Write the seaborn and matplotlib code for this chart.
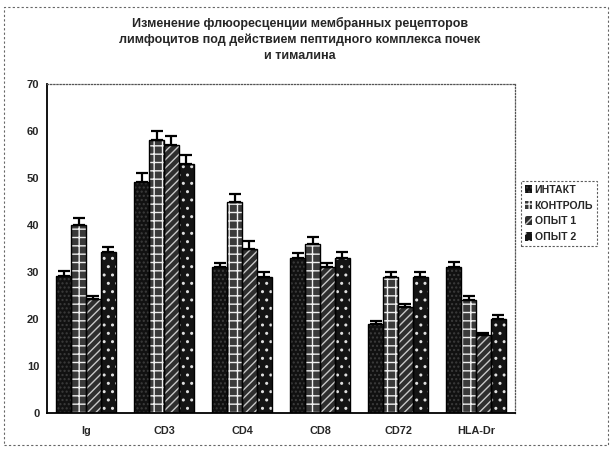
import matplotlib
matplotlib.use("Agg")
import matplotlib.pyplot as plt
from matplotlib.patches import Patch, Rectangle
from matplotlib.ticker import FixedLocator
import seaborn as sns
import pandas as pd
import numpy as np

categories = ["Ig", "CD3", "CD4", "CD8", "CD72", "HLA-Dr"]
groups = ["ИНТАКТ", "КОНТРОЛЬ", "ОПЫТ 1", "ОПЫТ 2"]
intakt = [29.2, 49.2, 31.0, 33.0, 19.0, 31.0]
kontrol = [40.0, 58.0, 45.0, 36.0, 29.0, 24.0]
opyt1 = [24.3, 57.0, 35.0, 31.0, 22.5, 16.5]
opyt2 = [34.2, 53.0, 29.0, 33.0, 29.0, 20.0]
err_intakt = [1.1, 1.8, 1.0, 1.0, 0.5, 1.2]
err_kontrol = [1.5, 2.0, 1.5, 1.5, 1.0, 1.0]
err_opyt1 = [0.7, 2.0, 1.5, 1.0, 0.6, 0.5]
err_opyt2 = [1.2, 2.0, 1.0, 1.3, 1.0, 0.8]
title = ("Изменение флюоресценции мембранных рецепторов\n"
         "лимфоцитов под действием пептидного комплекса почек\n"
         "и тималина")

values = [intakt, kontrol, opyt1, opyt2]
errors = [err_intakt, err_kontrol, err_opyt1, err_opyt2]

df = pd.DataFrame({
    "marker": [c for _ in groups for c in categories],
    "group": [g for g in groups for _ in categories],
    "value": [v for vs in values for v in vs],
})

sns.set_style("white")
plt.rcParams["font.family"] = ["Liberation Sans", "DejaVu Sans"]
plt.rcParams["hatch.linewidth"] = 1.0

styles = [
    dict(facecolor="#111111", edgecolor="#3c3c3c", hatch="...."),
    dict(facecolor="#3a3a3a", edgecolor="#f0f0f0", hatch="++"),
    dict(facecolor="#2e2e2e", edgecolor="#c8c8c8", hatch="////"),
    dict(facecolor="#141414", edgecolor="#e0e0e0", hatch=".."),
]

fig = plt.figure(figsize=(6.12, 4.49), dpi=100)
ax = fig.add_axes([47/612, 1 - 413/449, (515-47)/612, (413-84)/449])

sns.barplot(data=df, x="marker", y="value", hue="group", order=categories,
            hue_order=groups, width=0.76, errorbar=None, ax=ax, legend=False,
            palette=[s["facecolor"] for s in styles])

for cont, st, errs in zip(ax.containers, styles, errors):
    xs, hs = [], []
    for bar in cont:
        bar.set_facecolor(st["facecolor"])
        bar.set_edgecolor(st["edgecolor"])
        bar.set_hatch(st["hatch"])
        bar.set_linewidth(0)
        ax.add_patch(Rectangle(bar.get_xy(), bar.get_width(), bar.get_height(),
                               fill=False, edgecolor="black", linewidth=1.0,
                               zorder=bar.get_zorder() + 0.1))
        xs.append(bar.get_x() + bar.get_width() / 2)
        hs.append(bar.get_height())
    ax.errorbar(xs, hs, yerr=[np.zeros(len(errs)), errs], fmt="none",
                ecolor="black", elinewidth=1.6, capsize=4, capthick=1.6, zorder=5)

ax.set_ylim(0, 70)
ax.set_xlim(-0.5, len(categories) - 0.5)
ax.set_yticks(range(0, 71, 10))
ax.set_xlabel("")
ax.set_ylabel("")
ax.tick_params(axis="y", direction="inout", length=5, width=1, labelsize=8, pad=3)
ax.tick_params(axis="x", which="major", length=0, labelsize=7.8, pad=9)
ax.xaxis.set_minor_locator(FixedLocator(np.arange(-0.5, len(categories), 1.0)))
ax.tick_params(axis="x", which="minor", direction="inout", length=4, width=1)
for lbl in ax.get_xticklabels() + ax.get_yticklabels():
    lbl.set_fontweight("bold")

for s in ["left", "bottom"]:
    ax.spines[s].set_color("black")
    ax.spines[s].set_linewidth(1.3)
for s in ["top", "right"]:
    ax.spines[s].set_color("#555555")
    ax.spines[s].set_linestyle((0, (1, 1.5)))
    ax.spines[s].set_linewidth(0.9)

fig.text(0.49, 0.962, title, ha="center", va="top", fontsize=9,
         fontweight="bold", linespacing=1.4)

handles = [Patch(facecolor=st["facecolor"], edgecolor=st["edgecolor"],
                 hatch=st["hatch"], linewidth=0) for st in styles]
leg = fig.legend(handles, groups, loc="upper left",
                 bbox_to_anchor=(521/612, 1 - 181/449), frameon=True,
                 fontsize=7.6, handlelength=0.7, handleheight=0.9,
                 handletextpad=0.25, labelspacing=0.55, borderpad=0.35,
                 borderaxespad=0, fancybox=False)
for t in leg.get_texts():
    t.set_fontweight("bold")
frame = leg.get_frame()
frame.set_edgecolor("#333333")
frame.set_linestyle((0, (2, 1.5)))
frame.set_linewidth(0.8)

fig.patches.append(Rectangle((0.006, 0.01), 0.988, 0.975, transform=fig.transFigure,
                             fill=False, edgecolor="#666666", linewidth=0.8,
                             linestyle=(0, (2, 2))))

fig.savefig("out.png", dpi=100)
